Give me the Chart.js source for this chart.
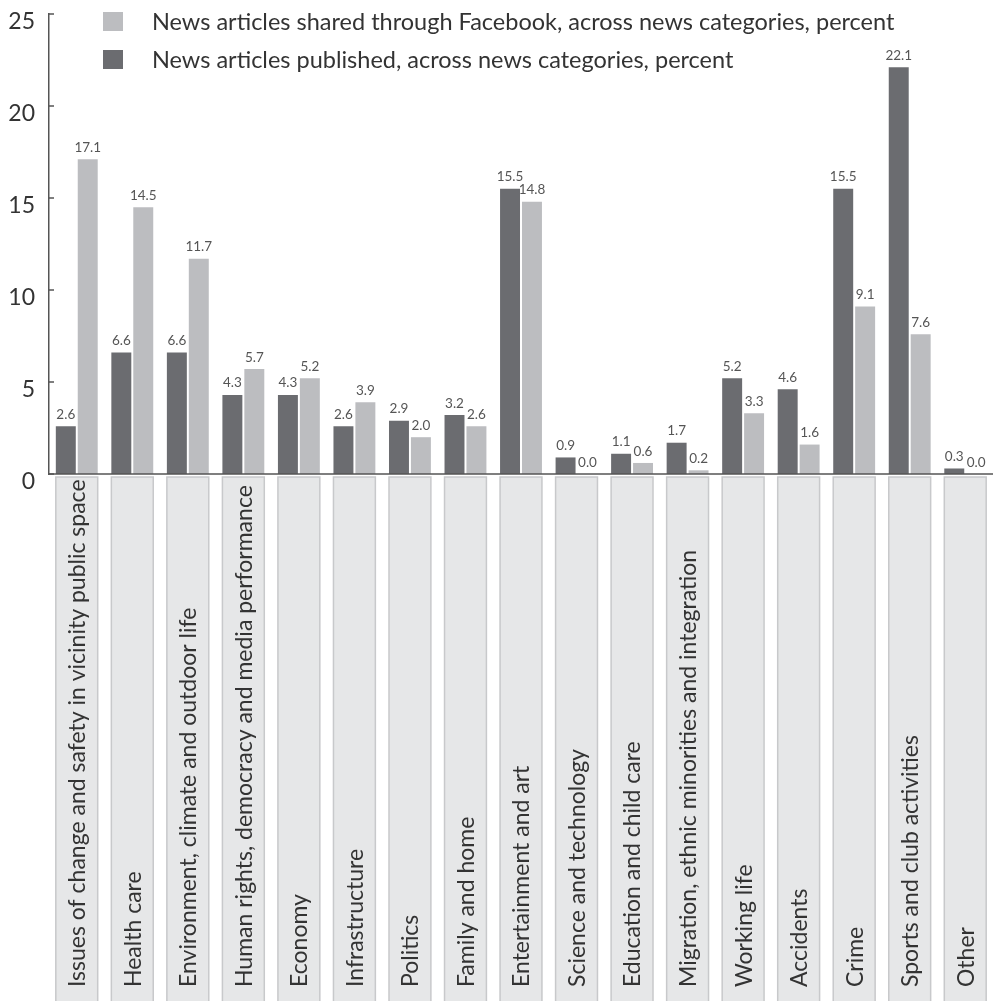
<!DOCTYPE html>
<html>
<head>
<meta charset="utf-8">
<script src="https://cdn.jsdelivr.net/npm/chart.js@4/dist/chart.umd.min.js"></script>
<style>
    body { margin: 0; background: #fff; }
    #wrap { position: relative; width: 995px; height: 1001px; }
    .legend { position: absolute; left: 103px; font-family: Lato, "Open Sans", sans-serif; font-size: 23.5px; color: #333; display: flex; align-items: center; }
    .legend span.box { display: inline-block; width: 20px; height: 19px; margin-right: 29px; }
</style>
</head>
<body>
<div id="wrap">
    <canvas id="chart" width="995" height="1001"></canvas>
    <div class="legend" style="top: 7px;"><span class="box" style="background:#bcbdc0"></span><span id="lgShared"></span></div>
    <div class="legend" style="top: 45px;"><span class="box" style="background:#6b6c70"></span><span id="lgPublished"></span></div>
</div>
<script>
// chart data
const categories = [
    "Issues of change and safety in vicinity public space",
    "Health care",
    "Environment, climate and outdoor life",
    "Human rights, democracy and media performance",
    "Economy",
    "Infrastructure",
    "Politics",
    "Family and home",
    "Entertainment and art",
    "Science and technology",
    "Education and child care",
    "Migration, ethnic minorities and integration",
    "Working life",
    "Accidents",
    "Crime",
    "Sports and club activities",
    "Other",
];
const published = [2.6, 6.6, 6.6, 4.3, 4.3, 2.6, 2.9, 3.2, 15.5, 0.9, 1.1, 1.7, 5.2, 4.6, 15.5, 22.1, 0.3];
const shared = [17.1, 14.5, 11.7, 5.7, 5.2, 3.9, 2.0, 2.6, 14.8, 0.0, 0.6, 0.2, 3.3, 1.6, 9.1, 7.6, 0.0];
const yTicks = [0, 5, 10, 15, 20, 25];
const sharedLabel = "News articles shared through Facebook, across news categories, percent";
const publishedLabel = "News articles published, across news categories, percent";

const FONT = "Lato, 'Open Sans', sans-serif";
const DARK = "#6b6c70";
const LIGHT = "#bcbdc0";

document.getElementById("lgShared").textContent = sharedLabel;
document.getElementById("lgPublished").textContent = publishedLabel;

// grey boxes with rotated category names under each pair of bars
const categoryBoxes = {
    id: "categoryBoxes",
    afterDraw(chart) {
        const ctx = chart.ctx;
        const m0 = chart.getDatasetMeta(0);
        const m1 = chart.getDatasetMeta(1);
        const top = chart.chartArea.bottom + 3;
        ctx.save();
        categories.forEach((name, i) => {
            const a = m0.data[i], b = m1.data[i];
            const left = a.x - a.width / 2;
            const right = b.x + b.width / 2;
            ctx.fillStyle = "#e6e7e8";
            ctx.fillRect(left, top, right - left, chart.height - top);
            ctx.strokeStyle = "#c8c9cb";
            ctx.lineWidth = 1.5;
            ctx.strokeRect(left, top, right - left, chart.height - top + 5);
            ctx.save();
            ctx.translate((left + right) / 2 + 1, 987);
            ctx.rotate(-Math.PI / 2);
            ctx.fillStyle = "#333";
            ctx.font = `23px ${FONT}`;
            ctx.textAlign = "left";
            ctx.textBaseline = "middle";
            ctx.fillText(name, 0, 0);
            ctx.restore();
        });
        ctx.restore();
    }
};

// value labels above bars, inner tick marks, x axis line
const extras = {
    id: "extras",
    afterDatasetsDraw(chart) {
        const ctx = chart.ctx;
        ctx.save();
        ctx.font = `13.5px ${FONT}`;
        ctx.fillStyle = "#555";
        ctx.textAlign = "center";
        ctx.textBaseline = "bottom";
        chart.data.datasets.forEach((ds, di) => {
            chart.getDatasetMeta(di).data.forEach((bar, i) => {
                ctx.fillText(ds.data[i].toFixed(1), bar.x, bar.y - 5);
            });
        });
        const y = chart.scales.y;
        const area = chart.chartArea;
        ctx.strokeStyle = "#555";
        ctx.lineWidth = 1.5;
        yTicks.forEach(t => {
            const py = y.getPixelForValue(t);
            ctx.beginPath();
            ctx.moveTo(area.left, py);
            ctx.lineTo(area.left + 5, py);
            ctx.stroke();
        });
        ctx.beginPath();
        ctx.moveTo(area.left, area.bottom);
        ctx.lineTo(area.right, area.bottom);
        ctx.stroke();
        ctx.restore();
    }
};

new Chart(document.getElementById("chart"), {
    type: "bar",
    data: {
        labels: categories,
        datasets: [
            { label: publishedLabel, data: published, backgroundColor: DARK },
            { label: sharedLabel, data: shared, backgroundColor: LIGHT },
        ],
    },
    options: {
        responsive: false,
        animation: false,
        layout: { padding: { top: 14, right: 2, left: 0, bottom: 0 } },
        datasets: { bar: { categoryPercentage: 0.79, barPercentage: 0.91 } },
        plugins: { legend: { display: false }, tooltip: { enabled: false } },
        scales: {
            x: {
                ticks: { display: false },
                grid: { display: false, drawTicks: false },
                border: { display: false },
                afterFit: s => { s.height = 527; },
            },
            y: {
                min: 0,
                max: 25,
                afterBuildTicks: s => { s.ticks = yTicks.map(v => ({ value: v })); },
                afterFit: s => { s.width = 49; s.paddingTop = 0; s.paddingBottom = 0; },
                ticks: { color: "#333", font: { family: FONT, size: 23 }, padding: 14, labelOffset: 8 },
                grid: { display: false, drawTicks: false },
                border: { color: "#555", width: 1.5 },
            },
        },
    },
    plugins: [categoryBoxes, extras],
});
</script>
</body>
</html>
